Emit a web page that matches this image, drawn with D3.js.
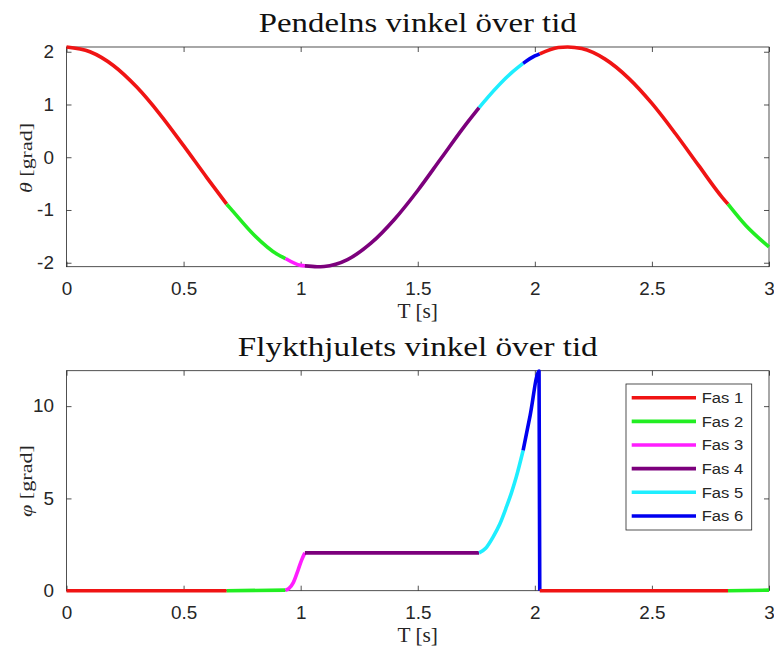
<!DOCTYPE html>
<html>
<head>
<meta charset="utf-8">
<script src="https://cdn.jsdelivr.net/npm/d3@7"></script>
<style>
  body { margin: 0; background: #fff; }
</style>
</head>
<body>
<div id="chart"></div>
<script>
// phases (shared by both plots)
const phaseNames = ["Fas 1", "Fas 2", "Fas 3", "Fas 4", "Fas 5", "Fas 6"];
const phaseColors = ["#f01414", "#22ee22", "#ff1eff", "#7c007c", "#1eeeff", "#0000f0"];
const phaseStart = [0, 0.684, 0.935, 1.018, 1.762, 1.95, 2.021, 2.825];
const phaseId = [0, 1, 2, 3, 4, 5, 0, 1];
const tEnd = 3;

// pendulum angle
const tTheta = [0, 0.1, 0.2, 0.3, 0.4, 0.5, 0.6, 0.684, 0.7, 0.8, 0.9, 0.935, 1.0, 1.018, 1.07, 1.1,
  1.2, 1.3, 1.4, 1.5, 1.6, 1.7, 1.762, 1.8, 1.9, 1.95, 2.0, 2.021, 2.1, 2.14, 2.2, 2.3, 2.4, 2.5,
  2.6, 2.7, 2.8, 2.825, 2.9, 3.0];
const theta = [2.09, 2.00, 1.74, 1.33, 0.81, 0.22, -0.39, -0.89, -0.97, -1.47, -1.84, -1.92, -2.05, -2.06, -2.075, -2.07,
  -1.94, -1.63, -1.18, -0.63, -0.02, 0.59, 0.94, 1.14, 1.60, 1.78, 1.92, 1.96, 2.08, 2.09, 2.06, 1.86, 1.50, 1.02,
  0.45, -0.16, -0.76, -0.89, -1.29, -1.70];

// escape wheel angle
const tPhi = [0, 0.3, 0.684, 0.935, 0.95, 0.968, 0.989, 1.004, 1.018, 1.4, 1.762, 1.79, 1.822, 1.85, 1.879,
  1.90, 1.921, 1.95, 1.98, 2.018, 2.021, 2.3, 2.6, 2.825, 3.0];
const phi = [0, 0, 0, 0.03, 0.12, 0.42, 1.12, 1.66, 2.05, 2.05, 2.05, 2.3, 2.92, 3.6, 4.55,
  5.3, 6.17, 7.6, 9.5, 11.9, 0, 0, 0, 0, 0.03];

const xTicks = [0, 0.5, 1, 1.5, 2, 2.5, 3];
const xTickLabels = ["0", "0.5", "1", "1.5", "2", "2.5", "3"];
const thetaTicks = [-2, -1, 0, 1, 2];
const thetaTickLabels = ["-2", "-1", "0", "1", "2"];
const phiTicks = [0, 5, 10];
const phiTickLabels = ["0", "5", "10"];

const width = 774, height = 649;
const left = 66.5, right = 769;
const sans = "'Liberation Sans', Arial, sans-serif";
const serif = "'Liberation Serif', 'Times New Roman', serif";
const axisColor = "#262626";

const svg = d3.select("#chart").append("svg")
    .attr("width", width)
    .attr("height", height)
    .style("display", "block");

const x = d3.scaleLinear().domain([0, tEnd]).range([left, right]);

// stretch a text element horizontally so it spans `target` px
function fitWidth(sel, target, extra) {
    const node = sel.node();
    const len = node.getComputedTextLength();
    const k = target / len;
    sel.attr("transform", (extra || "") + ` scale(${k},1)`);
}

function drawPanel(opts) {
    const { top, bottom, yDomain, yTicks, yTickLabels, tArr, vArr, title, titleW, ylab, ylabW, ylabY } = opts;
    const y = d3.scaleLinear().domain(yDomain).range([bottom, top]);
    const g = svg.append("g");

    const xb = g.append("g").attr("transform", `translate(0,${bottom})`)
        .call(d3.axisBottom(x).tickValues(xTicks).tickFormat((d, i) => xTickLabels[i])
            .tickSizeInner(-5).tickSizeOuter(0).tickPadding(15.5));
    g.append("g").attr("transform", `translate(0,${top})`)
        .call(d3.axisTop(x).tickValues(xTicks).tickFormat("").tickSizeInner(-5).tickSizeOuter(0));
    const yl = g.append("g").attr("transform", `translate(${left},0)`)
        .call(d3.axisLeft(y).tickValues(yTicks).tickFormat((d, i) => yTickLabels[i])
            .tickSizeInner(-5).tickSizeOuter(0).tickPadding(12));
    g.append("g").attr("transform", `translate(${right},0)`)
        .call(d3.axisRight(y).tickValues(yTicks).tickFormat("").tickSizeInner(-5).tickSizeOuter(0));

    g.selectAll(".domain").remove();
    g.selectAll(".tick line").attr("stroke", axisColor).attr("stroke-width", 0.8);
    g.selectAll(".tick text")
        .attr("fill", axisColor)
        .style("font-family", sans)
        .style("font-size", "18px");
    xb.selectAll(".tick text").attr("transform", "scale(1.05,1)");
    yl.selectAll(".tick text").attr("transform", "scale(1.05,1)").attr("x", -12);

    g.append("rect")
        .attr("x", left).attr("y", top)
        .attr("width", right - left).attr("height", bottom - top)
        .attr("fill", "none").attr("stroke", axisColor).attr("stroke-width", 0.8);

    // phase segments
    const line = d3.line()
        .x(d => x(d[0]))
        .y(d => y(d[1]))
        .curve(d3.curveMonotoneX);
    phaseStart.forEach((s, k) => {
        const e = k + 1 < phaseStart.length ? phaseStart[k + 1] : tEnd;
        const pts = [];
        tArr.forEach((t, i) => {
            if (t >= s - 1e-9 && t <= e + 1e-9) pts.push([t, vArr[i]]);
        });
        g.append("path")
            .attr("d", line(pts))
            .attr("fill", "none")
            .attr("stroke", phaseColors[phaseId[k]])
            .attr("stroke-width", 3.6)
            .attr("stroke-linejoin", "round");
    });

    // title
    const cx = (left + right) / 2;
    const tt = g.append("text")
        .attr("text-anchor", "middle")
        .attr("fill", "#111")
        .style("font-family", serif)
        .style("font-size", "27px")
        .text(title);
    fitWidth(tt, titleW, `translate(${cx},${top - 15})`);

    // x label
    const xl = g.append("text")
        .attr("text-anchor", "middle")
        .attr("fill", axisColor)
        .style("font-family", serif)
        .style("font-size", "20px")
        .text("T [s]");
    fitWidth(xl, 40.5, `translate(${cx},${bottom + 50.8})`);

    // y label
    const ylab2 = g.append("text")
        .attr("text-anchor", "middle")
        .attr("fill", axisColor)
        .style("font-family", serif)
        .style("font-size", "17px");
    ylab2.append("tspan").style("font-style", "italic").text(ylab);
    ylab2.append("tspan").text(" [grad]");
    fitWidth(ylab2, ylabW, `translate(32,${ylabY}) rotate(-90)`);

    return { g, y };
}

drawPanel({
    top: 47, bottom: 266.7,
    yDomain: [-2.075, 2.09],
    yTicks: thetaTicks, yTickLabels: thetaTickLabels,
    tArr: tTheta, vArr: theta,
    title: "Pendelns vinkel över tid", titleW: 318,
    ylab: "θ", ylabW: 70, ylabY: 158
});

drawPanel({
    top: 370.7, bottom: 590.7,
    yDomain: [0, 11.92],
    yTicks: phiTicks, yTickLabels: phiTickLabels,
    tArr: tPhi, vArr: phi,
    title: "Flykthjulets vinkel över tid", titleW: 360,
    ylab: "φ", ylabW: 72, ylabY: 481
});

// legend
const lg = svg.append("g").attr("transform", "translate(626,384)");
lg.append("rect")
    .attr("width", 125.7).attr("height", 146)
    .attr("fill", "#fff").attr("stroke", axisColor).attr("stroke-width", 0.8);
phaseNames.forEach((name, i) => {
    const yy = 13.7 + i * 23.65;
    lg.append("line")
        .attr("x1", 5.7).attr("x2", 70)
        .attr("y1", yy).attr("y2", yy)
        .attr("stroke", phaseColors[i]).attr("stroke-width", 3.6);
    const t = lg.append("text")
        .attr("dy", "0.35em")
        .attr("fill", axisColor)
        .style("font-family", sans)
        .style("font-size", "15.5px")
        .text(name);
    fitWidth(t, 41.5, `translate(75.7,${yy})`);
});
</script>
</body>
</html>
